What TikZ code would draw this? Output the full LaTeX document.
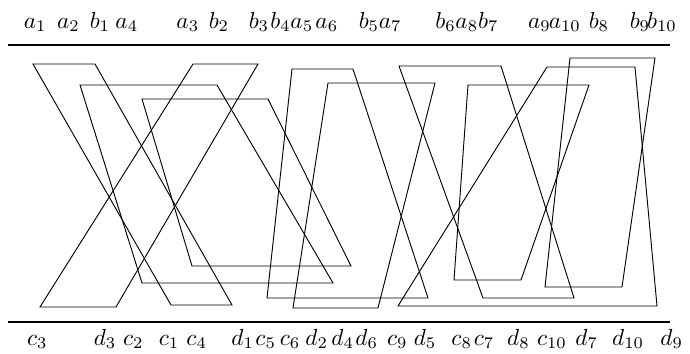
\documentclass[tikz,border=0pt]{standalone}
\begin{document}
\begin{tikzpicture}[x=0.43pt,y=-0.43pt,
  lab/.style={inner sep=0pt, anchor=base west},
  quad/.style={line width=0.4pt, line join=miter},
  rule/.style={line width=0.5pt}]
\useasboundingbox (0,0) rectangle (690,354);
% rules
\coordinate (tl) at (8,45);  \coordinate (tr) at (670,45);
\coordinate (bl) at (8,322); \coordinate (br) at (670,322);
\draw[rule] (tl) -- (tr);
\draw[rule] (bl) -- (br);
% quadrilaterals: i / ax / bx / ty / cx / dx / by
\foreach \i/\ax/\bx/\ty/\cx/\dx/\by in {
  1/33/95/64/171/232/305,
  2/80/217/85/142/333/283,
  3/193/258/64/40/116/307,
  4/142/268/99/192/351/266,
  5/292/353/69/267/428/298,
  6/328/435/83/293/378/308,
  7/399/501/66/483/574/298,
  8/468/589/85/454/521/280,
  9/547/635/67/398/657/306,
  10/570/655/58/545/622/287}{
  \coordinate (a\i) at (\ax,\ty);
  \coordinate (b\i) at (\bx,\ty);
  \coordinate (c\i) at (\cx,\by);
  \coordinate (d\i) at (\dx,\by);
  \draw[quad] (a\i) -- (b\i) -- (d\i) -- (c\i) -- cycle;
}
% top labels
\foreach \n/\x in {a_{1}/23.3, a_{2}/56.7, b_{1}/89.3, a_{4}/115, a_{3}/176,
  b_{2}/208.3, b_{3}/248.3, b_{4}/270, a_{5}/290, a_{6}/315, b_{5}/358.3,
  a_{7}/378.3, b_{6}/435, a_{8}/455, b_{7}/477.7, a_{9}/527.7, a_{10}/548.3,
  b_{8}/588.3, b_{9}/629.3, b_{10}/646.7}{
  \node[lab] (t\x) at (\x,28.3) {$\n$};
}
% bottom labels
\foreach \n/\x in {c_{3}/26.7, d_{3}/93.3, c_{2}/122.7, c_{1}/158.3, c_{4}/186,
  d_{1}/231, c_{5}/255, c_{6}/279.3, d_{2}/305, d_{4}/331, d_{6}/355,
  c_{9}/386.7, d_{5}/413.3, c_{8}/451, c_{7}/473.3, d_{8}/506.7,
  c_{10}/536.7, d_{7}/575, d_{10}/611.7, d_{9}/660}{
  \node[lab] (u\x) at (\x,345) {$\n$};
}
\end{tikzpicture}
\end{document}
